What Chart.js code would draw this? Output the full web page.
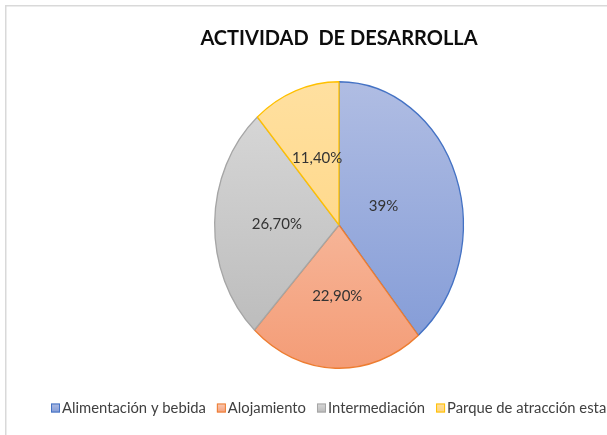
<!DOCTYPE html>
<html><head><meta charset="utf-8">
<script src="https://cdn.jsdelivr.net/npm/chart.js@4/dist/chart.umd.min.js"></script>
<style>html,body{margin:0;padding:0;background:#fff;overflow:hidden}#wrap{position:relative;width:607px;height:435px}</style>
</head><body><div id="wrap"><canvas id="c" width="607" height="435"></canvas></div>
<script>
const titleText = 'ACTIVIDAD  DE DESARROLLA';
const categories = ['Alimentación y bebida', 'Alojamiento', 'Intermediación', 'Parque de atracción esta'];
const values = [39, 22.9, 26.7, 11.4];
const valueLabels = ['39%', '22,90%', '26,70%', '11,40%'];
const colorsTop = ['#b0bde3', '#f9cdb9', '#dadada', '#ffe0a0'];
const colorsBottom = ['#8099d6', '#f49c76', '#b8b8b8', '#ffd37a'];
const borderColors = ['#4472c4', '#ed7d31', '#a5a5a5', '#ffc000'];

const SY = 1.152;
const FONT = 'Lato, "Open Sans", sans-serif';

function grad(ctx, y0, y1, i) {
  const g = ctx.createLinearGradient(0, y0, 0, y1);
  g.addColorStop(0, colorsTop[i]);
  g.addColorStop(1, colorsBottom[i]);
  return g;
}

const deco = {
  id: 'deco',
  beforeDraw(chart) {
    const ctx = chart.ctx;
    ctx.save();
    ctx.strokeStyle = '#d9d9d9';
    ctx.lineWidth = 1.5;
    ctx.beginPath();
    ctx.moveTo(5.75, 435); ctx.lineTo(5.75, 5.75); ctx.lineTo(607, 5.75);
    ctx.stroke();
    ctx.restore();
  },
  beforeDatasetsDraw(chart) {
    const el = chart.getDatasetMeta(0).data[0];
    const ctx = chart.ctx;
    ctx.save();
    ctx.translate(el.x, el.y);
    ctx.scale(1, SY);
    ctx.translate(-el.x, -el.y);
  },
  afterDatasetsDraw(chart) {
    const ctx = chart.ctx;
    ctx.restore();
    const meta = chart.getDatasetMeta(0);
    ctx.save();
    ctx.font = '15px ' + FONT;
    ctx.fillStyle = '#333333';
    ctx.textAlign = 'center';
    ctx.textBaseline = 'middle';
    meta.data.forEach((el, i) => {
      const mid = (el.startAngle + el.endAngle) / 2;
      const r = el.outerRadius * (i === 0 ? 0.38 : 0.5);
      const x = el.x + Math.cos(mid) * r;
      const y = el.y + Math.sin(mid) * r * SY;
      ctx.fillText(valueLabels[i], x, y);
    });
    // title
    ctx.font = 'bold 20px ' + FONT;
    ctx.fillStyle = '#0d0d0d';
    ctx.fillText(titleText, meta.data[0].x, 39);
    // legend
    ctx.font = '14.8px ' + FONT;
    ctx.textAlign = 'left';
    let x = 51;
    const y = 408;
    categories.forEach((c, i) => {
      ctx.fillStyle = grad(ctx, y - 5, y + 5, i);
      ctx.fillRect(x, y - 4.5, 9, 9);
      ctx.strokeStyle = borderColors[i];
      ctx.lineWidth = 1;
      ctx.strokeRect(x + 0.5, y - 4, 8, 8);
      ctx.fillStyle = '#404040';
      ctx.fillText(c, x + 11, y);
      x += 11 + ctx.measureText(c).width + 11;
    });
    ctx.restore();
  }
};

new Chart(document.getElementById('c'), {
  type: 'pie',
  data: {
    labels: categories,
    datasets: [{
      data: values,
      backgroundColor: (c) => {
        const a = c.chart.chartArea;
        if (!a) return colorsTop[c.dataIndex];
        return grad(c.chart.ctx, a.top, a.bottom, c.dataIndex);
      },
      borderColor: borderColors,
      borderWidth: 1.3
    }]
  },
  options: {
    responsive: false,
    animation: false,
    layout: { padding: { left: 214, right: 143, top: 100, bottom: 85 } },
    plugins: { legend: { display: false }, tooltip: { enabled: false }, title: { display: false } }
  },
  plugins: [deco]
});
</script></body></html>
